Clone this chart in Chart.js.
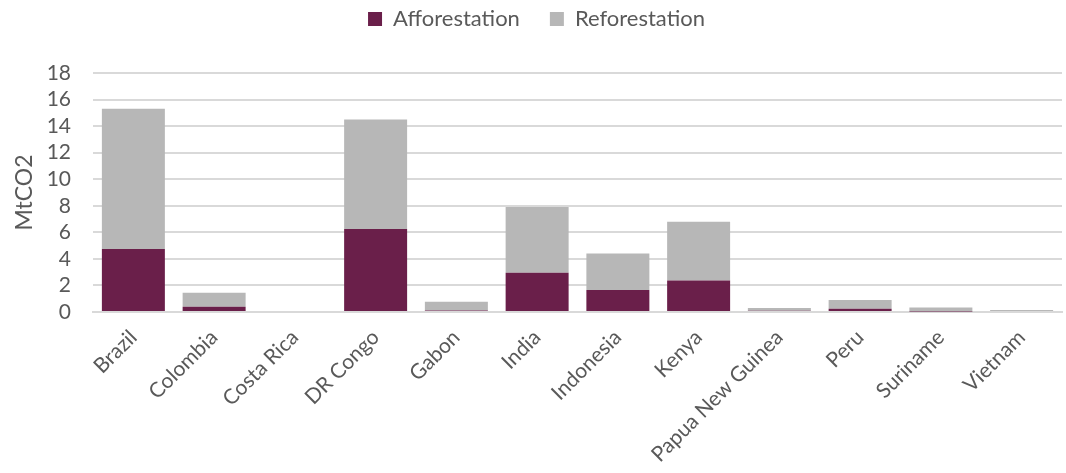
<!DOCTYPE html>
<html>
<head>
<meta charset="utf-8">
<script src="https://cdn.jsdelivr.net/npm/chart.js@4"></script>
<style>
  html, body { margin: 0; padding: 0; background: #fff; }
  #wrap { width: 1066px; height: 473px; }
</style>
</head>
<body>
<div id="wrap"><canvas id="myChart" width="1066" height="473"></canvas></div>
<script>
var countries = ['Brazil', 'Colombia', 'Costa Rica', 'DR Congo', 'Gabon', 'India',
  'Indonesia', 'Kenya', 'Papua New Guinea', 'Peru', 'Suriname', 'Vietnam'];
var afforestation = [4.75, 0.4, 0.0, 6.25, 0.12, 2.95, 1.65, 2.38, 0.1, 0.25, 0.03, 0.0];
var reforestation = [10.55, 1.05, 0.08, 8.25, 0.65, 4.95, 2.75, 4.42, 0.2, 0.65, 0.3, 0.15];
var yTicks = [0, 2, 4, 6, 8, 10, 12, 14, 16, 18];

var textColor = '#595959';
var fontFamily = "Lato, 'Open Sans', sans-serif";

// extra space under the legend
var legendGap = {
  id: 'legendGap',
  beforeInit: function (chart) {
    var fit = chart.legend.fit;
    chart.legend.fit = function () {
      fit.bind(chart.legend)();
      this.height += 33;
    };
  }
};

var ctx = document.getElementById('myChart').getContext('2d');
var myChart = new Chart(ctx, {
  type: 'bar',
  data: {
    labels: countries,
    datasets: [{
        label: 'Afforestation',
        data: afforestation,
        backgroundColor: '#6A1F4A',
        barPercentage: 0.78,
        categoryPercentage: 1
      }, {
        label: 'Reforestation',
        data: reforestation,
        backgroundColor: '#B7B7B7',
        barPercentage: 0.78,
        categoryPercentage: 1
      }
    ]
  },
  plugins: [legendGap],
  options: {
    responsive: false,
    animation: false,
    layout: {
      padding: { left: 11, right: 4, top: -22, bottom: 0 }
    },
    plugins: {
      legend: {
        position: 'top',
        labels: {
          color: textColor,
          boxWidth: 14,
          boxHeight: 14,
          padding: 30,
          font: { family: fontFamily, size: 22 }
        }
      },
      tooltip: { enabled: false }
    },
    scales: {
      x: {
        stacked: true,
        afterFit: function (axis) {
          axis.height = 161;
        },
        grid: { display: false },
        border: { color: '#d9d9d9', width: 2 },
        ticks: {
          color: textColor,
          maxRotation: 45,
          minRotation: 45,
          autoSkip: false,
          padding: 5,
          font: { family: fontFamily, size: 21 }
        }
      },
      y: {
        stacked: true,
        min: 0,
        max: 18,
        afterBuildTicks: function (axis) {
          axis.ticks = yTicks.map(function (v) { return { value: v }; });
        },
        afterFit: function (axis) {
          axis.width = 82;
        },
        grid: { color: '#d9d9d9', lineWidth: 2, drawTicks: false },
        border: { display: false },
        ticks: {
          color: textColor,
          padding: 22,
          autoSkip: false,
          font: { family: fontFamily, size: 21 }
        },
        title: {
          display: true,
          text: 'MtCO2',
          color: textColor,
          padding: { top: 0, bottom: 6 },
          font: { family: fontFamily, size: 23 }
        }
      }
    }
  }
});
</script>
</body>
</html>
